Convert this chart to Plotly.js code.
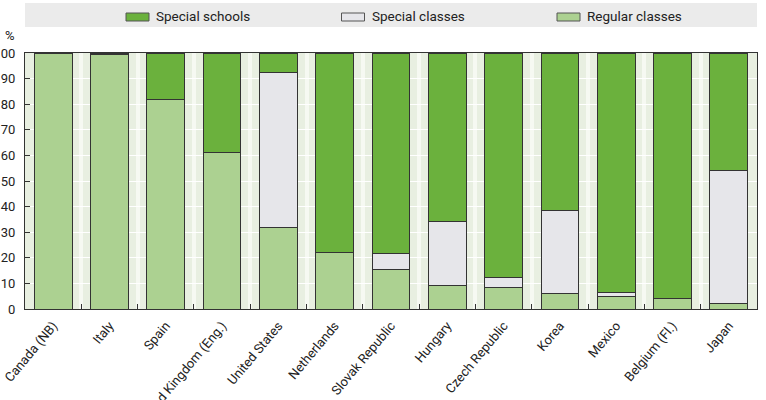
<!DOCTYPE html>
<html>
<head>
<meta charset="utf-8">
<script src="https://cdn.plot.ly/plotly-3.0.1.min.js"></script>
<style>
  html, body { margin: 0; padding: 0; background: #ffffff; }
  #chart { width: 766px; height: 400px; }
</style>
</head>
<body>
<div id="chart"></div>
<script>
// Share of students by type of placement (%)
const countries = ['Canada (NB)', 'Italy', 'Spain', 'United Kingdom (Eng.)', 'United States',
  'Netherlands', 'Slovak Republic', 'Hungary', 'Czech Republic', 'Korea', 'Mexico',
  'Belgium (Fl.)', 'Japan'];
const regularClasses = [100, 99.6, 82, 61, 32, 22, 15.5, 9, 8.5, 6, 5, 4, 2];
const specialClasses = [0, 0, 0, 0, 60.3, 0, 6, 25.2, 3.7, 32.3, 1.5, 0, 52];
const specialSchools = [0, 0.4, 18, 39, 7.7, 78, 78.5, 65.8, 87.8, 61.7, 93.5, 96, 46];
const yTicks = [0, 10, 20, 30, 40, 50, 60, 70, 80, 90, 100];

const seriesNames = ['Special schools', 'Special classes', 'Regular classes'];
const colSchools = '#6bb13d';
const colClasses = '#e6e6ea';
const colRegular = '#acd191';
const edge = '#333333';
const FONT = 'Roboto, "Liberation Sans", sans-serif';

function barTrace(name, values, color) {
  return {
    type: 'bar', name: name, x: countries, y: values,
    marker: { color: color, line: { color: edge, width: 1 } },
    hoverinfo: 'x+y+name', showlegend: false
  };
}

const data = [
  barTrace(seriesNames[2], regularClasses, colRegular),
  barTrace(seriesNames[1], specialClasses, colClasses),
  barTrace(seriesNames[0], specialSchools, colSchools)
];

// legend strip drawn across the top
const legendColors = [colSchools, colClasses, colRegular];
const swatchX = [126, 341.5, 557];
const toPx = px => (px - 25) / 732;
const shapes = [{
  type: 'rect', xref: 'paper', yref: 'paper',
  x0: toPx(25), x1: toPx(757), y0: (309 - 27) / 256, y1: (309 - 3) / 256,
  fillcolor: '#ebebeb', line: { width: 0 }, layer: 'below'
}];
const annotations = [];
seriesNames.forEach((n, i) => {
  shapes.push({
    type: 'rect', xref: 'paper', yref: 'paper',
    x0: toPx(swatchX[i]), x1: toPx(swatchX[i] + 23),
    y0: (309 - 21) / 256, y1: (309 - 13) / 256,
    fillcolor: legendColors[i], line: { color: '#555555', width: 1 }
  });
  annotations.push({
    xref: 'paper', yref: 'paper', x: toPx(swatchX[i] + 28), y: (309 - 16) / 256,
    xanchor: 'left', yanchor: 'middle', showarrow: false, text: n,
    font: { family: FONT, size: 13.5, color: '#222222' }
  });
});
annotations.push({
  xref: 'paper', yref: 'paper', x: toPx(3), y: (309 - 35) / 256,
  xanchor: 'left', yanchor: 'middle', showarrow: false, text: '%',
  font: { family: FONT, size: 13, color: '#222222' }
});

const layout = {
  width: 766, height: 400,
  margin: { l: 25, r: 9, t: 53, b: 91, pad: 0 },
  paper_bgcolor: '#ffffff',
  plot_bgcolor: '#e8efe1',
  barmode: 'stack',
  bargap: 0.33,
  showlegend: false,
  font: { family: FONT, size: 13, color: '#222222' },
  xaxis: {
    type: 'category', automargin: false,
    tickangle: -50, tickson: 'boundaries',
    ticks: 'inside', ticklen: 5, tickcolor: edge, tickwidth: 1,
    ticklabelstandoff: 3,
    showgrid: true, gridcolor: '#f6f9f2', gridwidth: 4,
    showline: true, linecolor: edge, linewidth: 1, mirror: true,
    tickfont: { family: FONT, size: 13, color: '#222222' }
  },
  yaxis: {
    range: [0, 100], automargin: false,
    tickvals: yTicks, ticktext: yTicks.map(String),
    ticks: 'inside', ticklen: 5, tickcolor: edge, tickwidth: 1,
    ticklabelstandoff: 6,
    showgrid: true, gridcolor: '#ffffff', gridwidth: 1,
    zeroline: false,
    showline: true, linecolor: edge, linewidth: 1, mirror: true,
    tickfont: { family: FONT, size: 13, color: '#222222' }
  },
  shapes: shapes,
  annotations: annotations
};

Plotly.newPlot('chart', data, layout, { displayModeBar: false, staticPlot: true });
</script>
</body>
</html>
